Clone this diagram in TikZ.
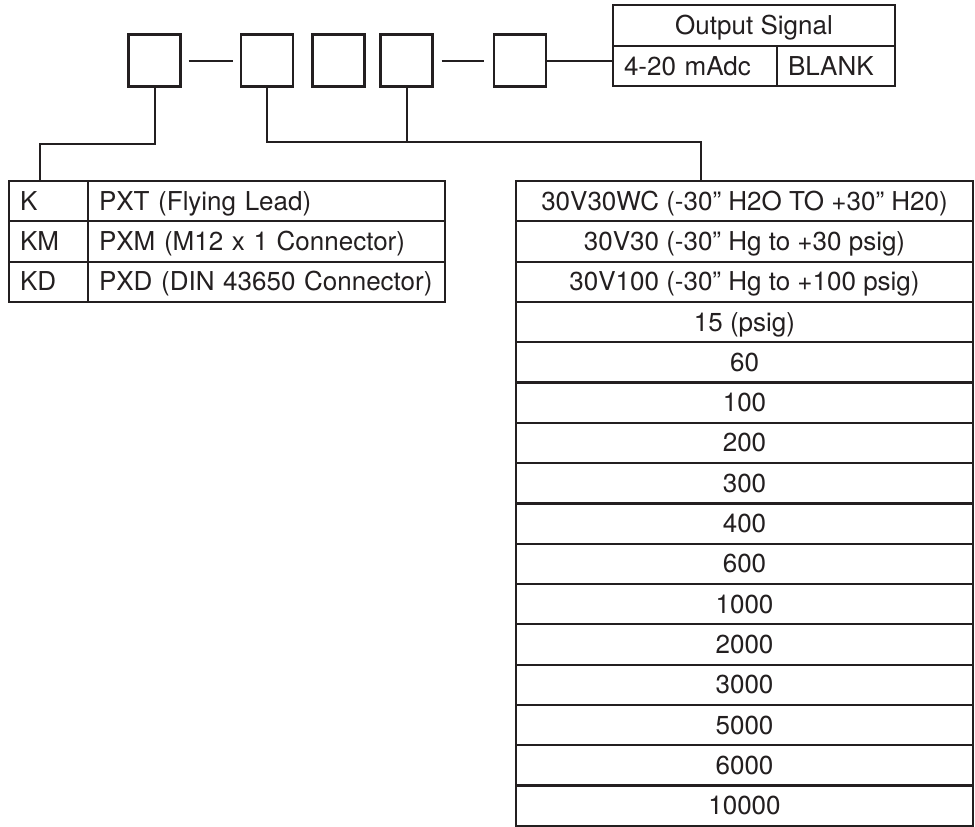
\documentclass[tikz,border=0pt]{standalone}
\usepackage{fontspec}
\setmainfont{TeX Gyre Heros}
\usetikzlibrary{positioning}
\definecolor{ink}{HTML}{231F20}

\begin{document}
\begin{tikzpicture}[x=1pt,y=-1pt]
\tikzstyle{every node}=[font=\fontsize{26}{30}\selectfont, text=ink, outer sep=0pt]
\tikzstyle{digit}=[draw=ink, line width=2.6pt, minimum size=52pt, inner sep=0pt]
\tikzstyle{cell}=[draw=ink, line width=2.2pt, minimum height=40.3pt, inner sep=0pt,
  text height=22pt, text depth=4pt]
\tikzstyle{lcell}=[cell, inner xsep=11pt, align=left]
\tikzstyle{wire}=[draw=ink, line width=2pt]
\useasboundingbox (0,0) rectangle (975,827);

% model code boxes
\node[digit] (box1) at (154.5,60.5) {};
\node[digit] (box2) at (267,60.5) {};
\node[digit] (box3) at (338.5,60.5) {};
\node[digit] (box4) at (406.5,60.5) {};
\node[digit] (box5) at (520,60.5) {};
\coordinate[right=8pt of box1] (dashA);
\coordinate[left=8pt of box2] (dashB);
\coordinate[right=9pt of box4] (dashC);
\coordinate[left=10pt of box5] (dashD);
\draw[wire] (dashA) -- (dashB);
\draw[wire] (dashC) -- (dashD);

% output signal
\node[cell, minimum width=282pt, minimum height=41pt] (sig) at (754,25.5) {Output Signal};
\node[lcell, text width=142pt, anchor=north west] (sig1) at (sig.south west) {4-20 mAdc};
\node[lcell, text width=96pt, right=0pt of sig1] (sig2) {BLANK};

% connection
\foreach \c/\n [count=\i] in {K/PXT (Flying Lead), KM/PXM (M12 x 1 Connector),
    KD/PXD (DIN 43650 Connector)} {
  \node[lcell, text width=57pt, anchor=north west] (code\i) at (9,{181+(\i-1)*40.3}) {\c};
  \node[lcell, text width=335pt, right=0pt of code\i] (conn\i) {\n};
}

% pressure range
\foreach \v [count=\i] in {30V30WC (-30” H2O TO +30” H20), 30V30 (-30” Hg to +30 psig),
    30V100 (-30” Hg to +100 psig), 15 (psig), 60, 100, 200, 300, 400, 600,
    1000, 2000, 3000, 5000, 6000, 10000} {
  \node[cell, minimum width=457pt, anchor=north] (range\i) at (744.5,{181+(\i-1)*40.3}) {\v};
}

\coordinate (bendL) at (40,144);
\coordinate (bendR) at (701,142);
\draw[wire] (box1.south) |- (bendL) -- (bendL |- code1.north);
\draw[wire] (box2.south) |- (bendR) -- (bendR |- range1.north);
\draw[wire] (box4.south) -- (box4.south |- bendR);
\draw[wire] (box5.east) -- (box5.east -| sig1.west);
\end{tikzpicture}
\end{document}
